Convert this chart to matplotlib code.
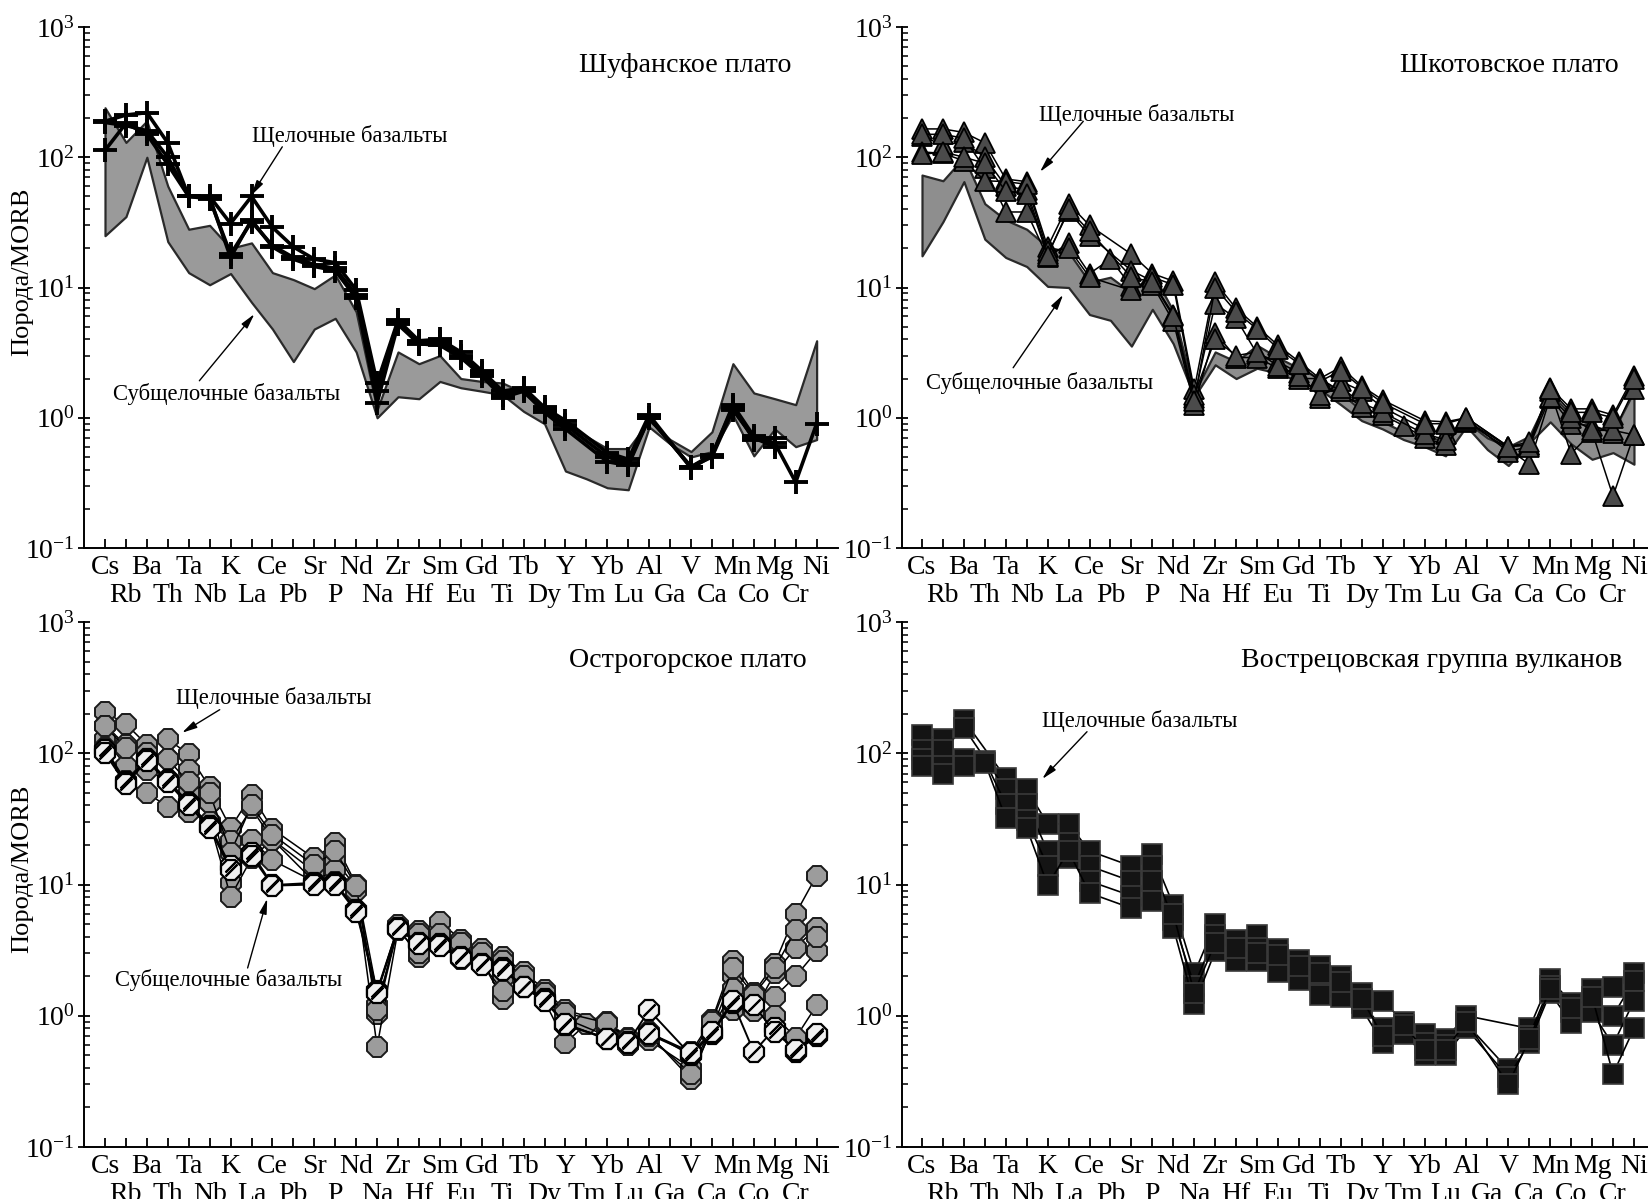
import numpy as np
import matplotlib
matplotlib.use('Agg')
import matplotlib.pyplot as plt
from matplotlib.ticker import LogLocator, NullFormatter

plt.rcParams['font.family'] = ['Liberation Serif', 'DejaVu Serif']
plt.rcParams['mathtext.fontset'] = 'stix'

nan = np.nan

elements = ['Cs', 'Rb', 'Ba', 'Th', 'Ta', 'Nb', 'K', 'La', 'Ce', 'Pb', 'Sr', 'P',
            'Nd', 'Na', 'Zr', 'Hf', 'Sm', 'Eu', 'Gd', 'Ti', 'Tb', 'Dy', 'Y', 'Tm',
            'Yb', 'Lu', 'Al', 'Ga', 'V', 'Ca', 'Mn', 'Co', 'Mg', 'Cr', 'Ni']

# --- Шуфанское плато ---
shuf_sub_hi = [240, 130, 190, 60, 28, 30, 20, 22, 13, 11.5, 9.8, 12.5, 6.5, 1.15, 3.2, 2.6, 3.0,
               2.0, 1.9, 1.85, 1.55, 1.13, 0.87, 0.72, 0.58, 0.58, 0.95, 0.68, 0.55, 0.78, 2.6,
               1.55, 1.4, 1.26, 3.9]
shuf_sub_lo = [25, 35, 100, 22.5, 13, 10.5, 12.8, 7.7, 4.8, 2.7, 4.8, 5.8, 3.2, 1.0, 1.45, 1.4,
               1.9, 1.7, 1.6, 1.5, 1.12, 0.9, 0.39, 0.34, 0.29, 0.28, 0.85, 0.63, 0.5, 0.55, 1.05,
               0.51, 0.82, 0.6, 0.68]
shuf_alk_1 = [189, 211, 220, 129, 50, 50, 31, 50, 29, 20.5, 16.5, 15.5, 9.6, 1.85, 5.6, 3.9, 4.0,
              3.2, 2.3, 1.6, 1.7, 1.2, 0.95, nan, 0.54, 0.48, 1.05, nan, 0.41, 0.51, 1.25, 0.72,
              0.64, 0.32, 0.9]
shuf_alk_2 = [113, 182, 150, 88, 50, 49, 17, 33, 20.5, 16.5, 14.5, 13.5, 8.3, 1.3, 5.2, 3.7, 3.6,
              2.9, 2.1, 1.43, 1.6, 1.1, 0.82, nan, 0.46, 0.43, 1.0, nan, 0.42, 0.5, 1.15, 0.7,
              0.6, nan, nan]
shuf_alk_3 = [185, 175, 160, 100, 50, 48, 18, 32, 21, 17, 15, 14, 8.8, 1.6, 5.4, 3.8, 3.8,
              3.0, 2.2, 1.5, 1.65, 1.15, 0.88, nan, 0.5, 0.45, 1.0, nan, 0.42, 0.52, 1.2, 0.68,
              0.7, nan, nan]

# --- Шкотовское плато ---
shkot_sub_hi = [73, 66, 100, 44, 33, 28, 20.5, 18.7, 11, 12, 9.1, 13, 6.6, 1.55, 3.2, 2.7, 3.6,
                2.9, 2.4, 2.0, 1.55, 1.13, 0.93, 0.78, 0.7, 0.68, 0.93, 0.7, 0.6, 0.72, 1.55,
                1.05, 0.87, 0.78, 1.6]
shkot_sub_lo = [17.5, 32, 65, 23.5, 17, 14.5, 10.2, 10, 6.2, 5.6, 3.55, 6.8, 3.7, 1.45, 2.55, 2.0,
                2.4, 2.2, 1.9, 1.65, 1.26, 0.95, 0.82, 0.68, 0.6, 0.51, 0.86, 0.57, 0.43, 0.64,
                0.93, 0.63, 0.48, 0.54, 0.44]
shkot_alk_1 = [165, 165, 155, 129, 68, 65, 20.5, 44, 30, nan, 18, 12.8, 11.2, 1.65, 11, 6.9, 5.0,
               3.6, 2.7, 2.0, 2.45, 1.75, 1.37, nan, 0.95, 0.93, 1.0, nan, 0.6, 0.62, 1.7, 1.17,
               1.17, 1.05, 2.1]
shkot_alk_2 = [145, 124, 131, 100, 60, 56, 18, 38.5, 25, nan, 13.5, 11.2, 6.2, 1.43, 7.5, 5.8, 3.1,
               2.7, 2.2, 1.43, 1.9, 1.6, 1.2, nan, 0.82, 0.75, 0.93, nan, 0.58, 0.44, 1.43, 0.9,
               0.87, 0.76, 1.65]
shkot_alk_3 = [150, 150, 140, 82, 38, 38, 17, 22, 12.8, 16.5, 10.2, 10.5, 5.5, 1.26, 4.5, 2.9, 2.9,
               2.4, 2.0, 2.0, 1.6, 1.2, 1.05, 0.87, 0.7, 0.62, 0.95, nan, 0.6, 0.62, 1.6, 0.53,
               0.78, 0.25, 0.74]
shkot_alk_4 = [110, 107, 94, 66, 65, 62, 19, 20, 12, nan, 9.5, 12, 10.5, 1.5, 4.0, 3.0, 3.2,
               2.5, 2.1, 1.5, 1.7, 1.3, 1.1, nan, 0.75, 0.68, 0.97, nan, 0.55, 0.6, 1.45, 1.0,
               0.8, 0.8, 0.74]
shkot_alk_5 = [105, 110, 100, 90, 55, 52, 17.5, 40, 27, nan, 12, 11, 6.0, 1.35, 10, 6.5, 4.8,
               3.4, 2.6, 1.9, 2.3, 1.7, 1.3, nan, 0.9, 0.9, 1.0, nan, 0.6, 0.65, 1.65, 1.1,
               1.1, 1.0, 2.0]

# --- Острогорское плато ---
ostro_alk_1 = [205, 167, 116, 128, 98, 55, 27, 48, 26.5, nan, 15.8, 20.7, 10, 1.5, 4.8, 4.4, 5.2,
               3.8, 3.2, 2.8, 2.16, 1.58, 1.1, nan, 0.9, 0.68, 0.74, nan, 0.53, 0.93, 2.6, 1.5,
               2.5, 6.0, 11.7]
ostro_alk_2 = [162, 116, 91, 91, 75, 42, 21.4, 38, 22, nan, 12.5, 15.3, 9.5, 1.2, 4.6, 3.6, 3.5,
               2.9, 2.65, 1.95, 1.7, 1.3, 0.62, 0.87, 0.72, 0.6, 0.65, nan, 0.4, 0.8, 2.0, 1.08,
               2.1, 3.3, 4.7]
ostro_alk_3 = [128, 80, 75, 61, 50, 42, 10.3, 22, 15.3, nan, 10.5, 13, 9.5, 1.03, 4.7, 2.8, 3.6,
               2.9, 2.6, 1.35, 1.7, 1.35, 0.95, nan, 0.7, 0.62, 0.72, nan, 0.33, 0.82, 1.1, 1.4,
               1.4, 2.0, 3.1]
ostro_alk_4 = [110, 61, 50, 39, 35.5, 30, 8.1, 15.8, 22, nan, 10.5, 10.5, 9, 0.58, 4.5, 3.0, 3.4,
               2.7, 2.5, 1.55, 1.65, 1.3, 0.85, nan, 0.68, 0.6, 0.7, nan, 0.36, 0.78, 1.6, 1.2,
               1.0, 0.68, 1.2]
ostro_alk_5 = [160, 110, 100, 90, 60, 50, 17.5, 40, 24, nan, 14, 18, 9.8, 1.1, 4.9, 4.2, 4.2,
               3.6, 3.0, 2.6, 2.0, 1.5, 1.05, nan, 0.88, 0.66, 0.75, nan, 0.5, 0.9, 2.3, 1.45,
               2.3, 4.5, 4.0]
ostro_sub_1 = [105, 60, 91, 62, 42, 28, 13.8, 17.5, 9.9, nan, 10.3, 10.3, 6.4, 1.55, 4.7, 3.6, 3.5,
               2.8, 2.5, 2.3, 1.67, 1.35, 0.85, nan, 0.67, 0.63, 1.1, nan, 0.5, 0.73, 1.26, 0.53,
               0.8, 0.53, 0.7]
ostro_sub_2 = [100, 58, 88, 60, 40, 27, 13, 16.5, 9.8, nan, 10, 10, 6.2, 1.5, 4.6, 3.5, 3.4,
               2.75, 2.45, 2.25, 1.65, 1.3, 0.87, nan, 0.66, 0.62, 0.72, nan, 0.52, 0.75, 1.3, 1.2,
               0.75, 0.55, 0.72]

# --- Вострецовская группа вулканов ---
vostr_alk_1 = [137, 128, 179, nan, 65, 53, 29, 29, 18, nan, 13.8, 17, 7.0, 2.1, 5.0, 3.8, 4.1,
               3.2, 2.65, 2.4, 2.0, 1.5, 1.3, 0.9, 0.73, 0.67, 1.0, nan, nan, 0.8, 1.9, 1.26,
               1.6, 1.67, 2.1]
vostr_alk_2 = [105, 105, 157, nan, 53, 41, 18, 20.7, 13.8, nan, 10.6, 13.8, 5.4, 1.7, 4.1, 3.1, 3.3,
               2.65, 2.25, 1.85, 1.67, 1.26, 0.8, 0.8, 0.62, 0.6, 0.87, nan, 0.39, 0.7, 1.7, 1.06,
               1.3, 1.0, 1.85]
vostr_alk_3 = [91, 80, 91, 88, 41, 31, 13.8, 15.8, 10.6, nan, 8.2, 10.6, 4.7, 1.22, 3.1, 2.6, 2.6,
               2.15, 1.87, 1.45, 1.4, 1.14, 0.62, 0.73, 0.5, 0.5, 0.8, nan, 0.34, 0.62, 1.5, 0.88,
               1.06, 0.6, 1.3]
vostr_alk_4 = [80, 70, 80, 85, 32, 27, 9.9, 18, 8.6, nan, 6.6, 7.5, 6.0, 1.5, 3.6, 3.3, 3.0,
               2.9, 2.4, 2.1, 1.8, 1.35, 0.7, 0.85, 0.55, 0.55, 0.9, nan, 0.3, 0.66, 1.6, 1.15,
               1.4, 0.36, 0.8]

W, H = 1648, 1199
x = np.arange(len(elements))

fig = plt.figure(figsize=(W / 100, H / 100), dpi=100)


def add_panel(left, top, right, bottom, x_first, x_step, ylabel):
    ax = fig.add_axes([left / W, 1 - bottom / H, (right - left) / W, (bottom - top) / H])
    ax.set_yscale('log')
    ax.set_ylim(0.1, 1000)
    ax.set_xlim((left - x_first) / x_step, (right - x_first) / x_step)
    for s in ['top', 'right']:
        ax.spines[s].set_visible(False)
    for s in ['left', 'bottom']:
        ax.spines[s].set_linewidth(1.4)
    ax.yaxis.set_major_locator(LogLocator(base=10, numticks=10))
    ax.yaxis.set_minor_locator(LogLocator(base=10, subs=np.arange(2, 10), numticks=20))
    ax.yaxis.set_minor_formatter(NullFormatter())
    ax.tick_params(axis='y', which='major', direction='inout', length=9, width=1.3,
                   labelsize=20, pad=2)
    ax.tick_params(axis='y', which='minor', direction='in', length=4.5, width=1.1)
    # two rows of element labels: even ones on the first row, odd ones below
    ax.set_xticks(x[0::2])
    ax.set_xticklabels(elements[0::2], fontsize=20)
    ax.set_xticks(x[1::2], minor=True)
    ax.set_xticklabels(elements[1::2], minor=True, fontsize=20)
    ax.tick_params(axis='x', which='both', direction='in', length=6.7, width=1.3)
    ax.tick_params(axis='x', which='major', pad=5)
    ax.tick_params(axis='x', which='minor', pad=25)
    if ylabel:
        ax.set_ylabel('Порода/MORB', fontsize=19)
        ax.yaxis.set_label_coords(-0.067, 0.53)
    return ax


def spider(ax, values, **style):
    v = np.array(values, dtype=float)
    m = np.isfinite(v)
    ax.plot(x[m], v[m], **style)


def note(ax, text, text_xy, tail, tip):
    ax.text(text_xy[0], text_xy[1], text, transform=ax.transAxes, ha='center', va='center',
            fontsize=16.3)
    ax.annotate('', xy=tip, xytext=tail, xycoords='axes fraction', textcoords='axes fraction',
                arrowprops=dict(arrowstyle='-|>,head_length=0.9,head_width=0.22', lw=1.0,
                                color='black', shrinkA=0, shrinkB=0))


def title(ax, text, xy):
    ax.text(xy[0], xy[1], text, transform=ax.transAxes, ha='right', va='center', fontsize=20.2)


# Panel 1
ax1 = add_panel(84, 27, 838, 548, 105, 20.93, True)
ax1.fill_between(x, shuf_sub_lo, shuf_sub_hi, facecolor='#9a9a9a', edgecolor='#2a2a2a',
                 linewidth=1.6, zorder=1)
for s in [shuf_alk_2, shuf_alk_3, shuf_alk_1]:
    spider(ax1, s, color='black', lw=2.6, marker='+', ms=17, mew=2.8, zorder=3)
title(ax1, 'Шуфанское плато', (0.938, 0.927))
note(ax1, 'Щелочные базальты', (0.352, 0.790), (0.263, 0.770), (0.222, 0.677))
note(ax1, 'Субщелочные базальты', (0.189, 0.296), (0.153, 0.321), (0.226, 0.449))

# Panel 2
ax2 = add_panel(902, 27, 1648, 548, 922, 20.94, False)
ax2.fill_between(x, shkot_sub_lo, shkot_sub_hi, facecolor='#8e8e8e', edgecolor='#2a2a2a',
                 linewidth=1.6, zorder=1)
for s in [shkot_alk_1, shkot_alk_2, shkot_alk_3, shkot_alk_4, shkot_alk_5]:
    spider(ax2, s, color='black', lw=1.1, marker='^', ms=14.5, mfc='#4b4b4b', mec='black',
           mew=1.3, zorder=3)
title(ax2, 'Шкотовское плато', (0.961, 0.927))
note(ax2, 'Щелочные базальты', (0.314, 0.831), (0.243, 0.819), (0.185, 0.722))
note(ax2, 'Субщелочные базальты', (0.184, 0.317), (0.149, 0.346), (0.216, 0.486))

# Panel 3
ax3 = add_panel(84, 622, 838, 1147, 105, 20.93, True)
for s in [ostro_alk_1, ostro_alk_2, ostro_alk_3, ostro_alk_4, ostro_alk_5]:
    spider(ax3, s, color='black', lw=1.1, marker='8', ms=15, mfc='#9c9c9c', mec='#1a1a1a',
           mew=1.4, zorder=3)
for s in [ostro_sub_1, ostro_sub_2]:
    spider(ax3, s, color='black', lw=1.4, marker='8', ms=15, mfc='#f0f0f0', mec='black',
           mew=1.6, zorder=4)
    spider(ax3, s, linestyle='none', marker=(2, 2, -45), ms=12, mec='black', mew=1.5, zorder=5)
title(ax3, 'Острогорское плато', (0.958, 0.927))
note(ax3, 'Щелочные базальты', (0.252, 0.855), (0.180, 0.833), (0.130, 0.789))
note(ax3, 'Субщелочные базальты', (0.192, 0.319), (0.217, 0.341), (0.243, 0.473))

# Panel 4
ax4 = add_panel(902, 622, 1648, 1147, 922, 20.94, False)
for s in [vostr_alk_1, vostr_alk_2, vostr_alk_3, vostr_alk_4]:
    spider(ax4, s, color='black', lw=1.2, marker='s', ms=14.5, mfc='#141414', mec='#3a3a3a',
           mew=1.2, zorder=3)
title(ax4, 'Вострецовская группа вулканов', (0.965, 0.927))
note(ax4, 'Щелочные базальты', (0.318, 0.811), (0.248, 0.791), (0.188, 0.701))

fig.savefig('out.png', dpi=100)
